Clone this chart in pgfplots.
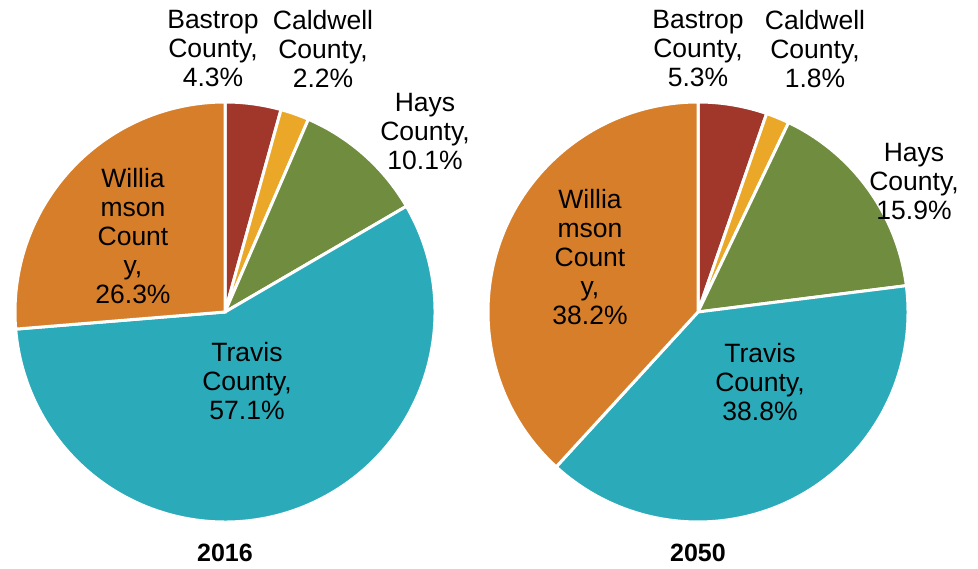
\documentclass[border=0pt]{standalone}
\usepackage{fontspec}
\setmainfont{Liberation Sans}
\usepackage{pgfplots}
\pgfplotsset{compat=1.18}
\definecolor{cBas}{HTML}{A0372A}
\definecolor{cCal}{HTML}{EBA828}
\definecolor{cHay}{HTML}{6F8C3F}
\definecolor{cTra}{HTML}{2BAAB9}
\definecolor{cWil}{HTML}{D77E2A}
\newcommand\lab{\fontsize{26.5}{29}\selectfont}
\begin{document}
\begin{tikzpicture}
\begin{axis}[hide axis, scale only axis, width=978pt, height=569pt,
  xmin=0, xmax=978, ymin=0, ymax=569, clip=false]
\coordinate (LL) at (axis cs:0,0);
\coordinate (UR) at (axis cs:978,569);
% 2016
\xdef\s{90}
\foreach \v/\c in {4.3/cBas, 2.2/cCal, 10.1/cHay, 57.1/cTra, 26.3/cWil}{
  \pgfmathsetmacro\e{\s-3.6*\v}
  \edef\tmp{\noexpand\fill[\c, draw=white, line width=3pt] (axis cs:225,257) -- ++(\s:210pt) arc[start angle=\s, end angle=\e, radius=210pt] -- cycle;}
  \tmp
  \xdef\s{\e}
}
% 2050
\xdef\s{90}
\foreach \v/\c in {5.3/cBas, 1.8/cCal, 15.9/cHay, 38.8/cTra, 38.2/cWil}{
  \pgfmathsetmacro\e{\s-3.6*\v}
  \edef\tmp{\noexpand\fill[\c, draw=white, line width=3pt] (axis cs:698,257) -- ++(\s:210pt) arc[start angle=\s, end angle=\e, radius=210pt] -- cycle;}
  \tmp
  \xdef\s{\e}
}
% labels 2016
\node[font=\lab, align=center] at (axis cs:213,520) {Bastrop\\County,\\4.3\%};
\node[font=\lab, align=center] at (axis cs:323,520) {Caldwell\\County,\\2.2\%};
\node[font=\lab, align=center] at (axis cs:425,437) {Hays\\County,\\10.1\%};
\node[font=\lab, align=center] at (axis cs:133,333) {Willia\\mson\\Count\\y,\\26.3\%};
\node[font=\lab, align=center] at (axis cs:247,188) {Travis\\County,\\57.1\%};
\node[font=\fontsize{25}{30}\selectfont\bfseries] at (axis cs:225,16) {2016};
% labels 2050
\node[font=\lab, align=center] at (axis cs:698,520) {Bastrop\\County,\\5.3\%};
\node[font=\lab, align=center] at (axis cs:815,520) {Caldwell\\County,\\1.8\%};
\node[font=\lab, align=center] at (axis cs:914,387) {Hays\\County,\\15.9\%};
\node[font=\lab, align=center] at (axis cs:590,312) {Willia\\mson\\Count\\y,\\38.2\%};
\node[font=\lab, align=center] at (axis cs:760,187) {Travis\\County,\\38.8\%};
\node[font=\fontsize{25}{30}\selectfont\bfseries] at (axis cs:698,16) {2050};
\end{axis}
\pgfresetboundingbox
\path[use as bounding box] (LL) rectangle (UR);
\end{tikzpicture}
\end{document}
